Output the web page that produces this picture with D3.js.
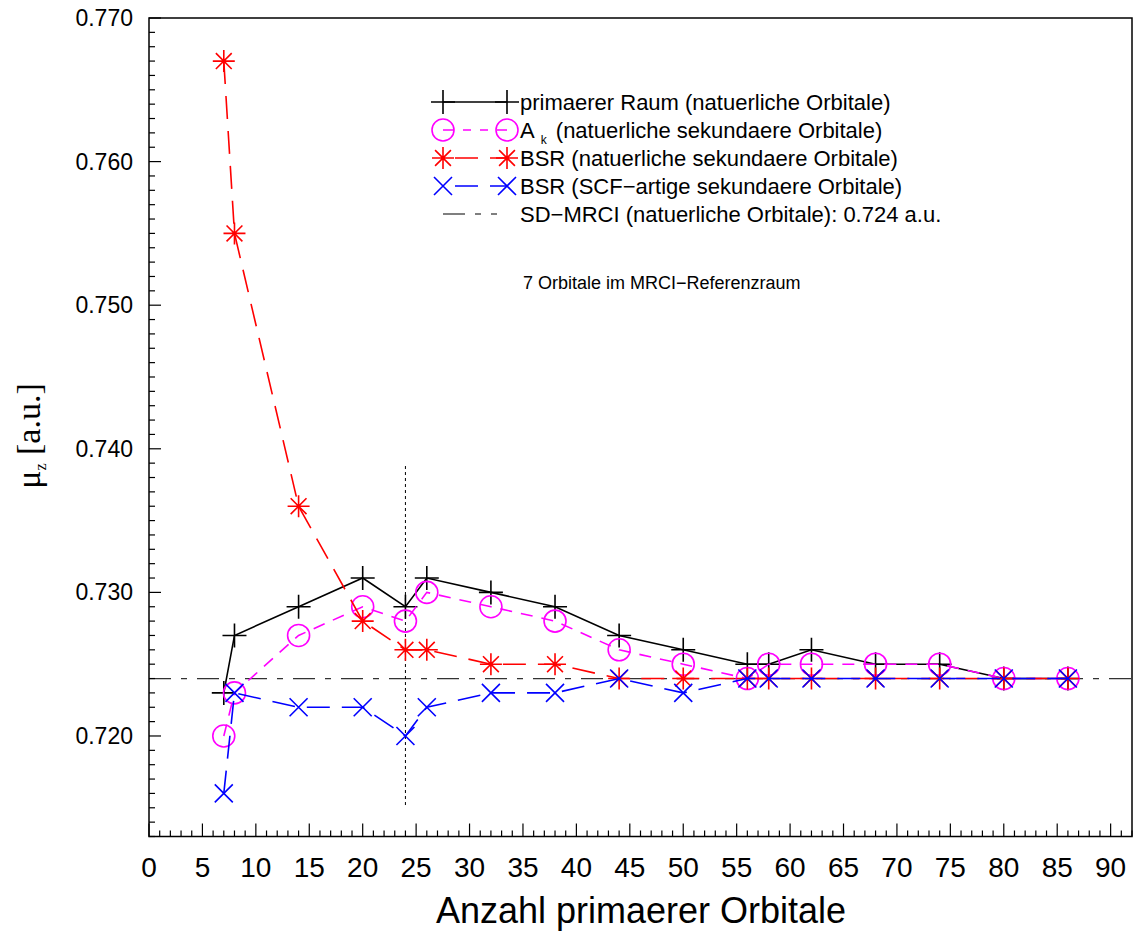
<!DOCTYPE html>
<html>
<head>
<meta charset="utf-8">
<script src="https://cdn.jsdelivr.net/npm/d3@7"></script>
<style>
  html, body { margin: 0; padding: 0; background: #fff; }
  svg { display: block; }
  text { font-family: "Liberation Sans", Arial, Helvetica, sans-serif; fill: #000; }
</style>
</head>
<body>
<svg id="chart" width="1138" height="933"></svg>
<script>
// Number of primary orbitals (x positions shared by all series)
const orbitals = [7, 8, 14, 20, 24, 26, 32, 38, 44, 50, 56, 58, 62, 68, 74, 80, 86];

// Dipole moment mu_z [a.u.] for each method
const primaerRaum   = [0.723, 0.727, 0.729, 0.731, 0.729, 0.731, 0.730, 0.729, 0.727, 0.726, 0.725, 0.725, 0.726, 0.725, 0.725, 0.724, 0.724];
const akNatuerlich  = [0.720, 0.723, 0.727, 0.729, 0.728, 0.730, 0.729, 0.728, 0.726, 0.725, 0.724, 0.725, 0.725, 0.725, 0.725, 0.724, 0.724];
const bsrNatuerlich = [0.767, 0.755, 0.736, 0.728, 0.726, 0.726, 0.725, 0.725, 0.724, 0.724, 0.724, 0.724, 0.724, 0.724, 0.724, 0.724, 0.724];
const bsrScf        = [0.716, 0.723, 0.722, 0.722, 0.720, 0.722, 0.723, 0.723, 0.724, 0.723, 0.724, 0.724, 0.724, 0.724, 0.724, 0.724, 0.724];

// Reference SD-MRCI value and the marker line at 24 orbitals
const sdMrciValue = 0.724;
const markerX = 24;
const markerRange = [0.715, 0.7388];

// Axis ticks
const xMajorTicks = d3.range(0, 91, 5);
const xMinorTicks = d3.range(0, 93, 1);
const yMajorTicks = [0.720, 0.730, 0.740, 0.750, 0.760, 0.770];
const yMinorTicks = d3.range(713, 771, 1).map(v => v / 1000);

const legendLabels = [
  "primaerer Raum (natuerliche Orbitale)",
  "A|k| (natuerliche sekundaere Orbitale)",
  "BSR (natuerliche sekundaere Orbitale)",
  "BSR (SCF\u2212artige sekundaere Orbitale)",
  "SD\u2212MRCI (natuerliche Orbitale): 0.724 a.u."
];

const svg = d3.select("#chart");
const plotLeft = 149, plotRight = 1132, plotTop = 18, plotBottom = 836.5;

const x = d3.scaleLinear().domain([0, 92]).range([plotLeft, plotRight]);
const y = d3.scaleLinear().domain([0.713, 0.770]).range([plotBottom, plotTop]);

// marker shapes
const shapes = {
  plus: s => `M${-s},0H${s}M0,${-s}V${s}`,
  circle: s => `M${s},0A${s},${s} 0 1,1 ${-s},0A${s},${s} 0 1,1 ${s},0Z`,
  star: s => { const d = s * 0.72; return `M${-s},0H${s}M0,${-s}V${s}M${-d},${-d}L${d},${d}M${-d},${d}L${d},${-d}`; },
  cross: s => `M${-s},${-s}L${s},${s}M${-s},${s}L${s},${-s}`
};

const series = [
  { values: primaerRaum,   color: "#000000", dash: null,    width: 1.6, shape: "plus",   size: 12 },
  { values: akNatuerlich,  color: "#ff00ff", dash: "12,9",  width: 1.6, shape: "circle", size: 11 },
  { values: bsrNatuerlich, color: "#ff0000", dash: "23,12", width: 1.6, shape: "star",   size: 11 },
  { values: bsrScf,        color: "#0000ff", dash: "23,12", width: 1.6, shape: "cross",  size: 9 }
];

// SD-MRCI reference line
svg.append("line")
  .attr("x1", x(0)).attr("x2", x(92))
  .attr("y1", y(sdMrciValue)).attr("y2", y(sdMrciValue))
  .attr("stroke", "#333").attr("stroke-width", 1.3)
  .attr("stroke-dasharray", "22,10,6,10");

// vertical dotted marker
svg.append("line")
  .attr("x1", x(markerX)).attr("x2", x(markerX))
  .attr("y1", y(markerRange[1])).attr("y2", y(markerRange[0]))
  .attr("stroke", "#000").attr("stroke-width", 1)
  .attr("stroke-dasharray", "3,3");

// series lines and markers
const line = d3.line().x(d => x(d[0])).y(d => y(d[1]));
series.forEach(s => {
  const pts = orbitals.map((o, i) => [o, s.values[i]]);
  svg.append("path")
    .attr("d", line(pts))
    .attr("fill", "none")
    .attr("stroke", s.color)
    .attr("stroke-width", s.width)
    .attr("stroke-dasharray", s.dash);
  svg.append("g").selectAll("path").data(pts).join("path")
    .attr("transform", d => `translate(${x(d[0])},${y(d[1])})`)
    .attr("d", shapes[s.shape](s.size))
    .attr("fill", "none")
    .attr("stroke", s.color)
    .attr("stroke-width", s.width);
});

// frame
svg.append("rect")
  .attr("x", plotLeft).attr("y", plotTop)
  .attr("width", plotRight - plotLeft).attr("height", plotBottom - plotTop)
  .attr("fill", "none").attr("stroke", "#000").attr("stroke-width", 1.5);

// x ticks (inward)
const xt = svg.append("g");
xt.selectAll("line").data(xMinorTicks).join("line")
  .attr("x1", d => x(d)).attr("x2", d => x(d))
  .attr("y1", plotBottom).attr("y2", d => plotBottom - (d % 5 === 0 ? 13 : 6))
  .attr("stroke", "#000").attr("stroke-width", 1.2);
xt.selectAll("text").data(xMajorTicks).join("text")
  .attr("x", d => x(d)).attr("y", 877)
  .attr("text-anchor", "middle")
  .style("font-size", "28px")
  .text(d => d);

// y ticks (inward)
const yt = svg.append("g");
yt.selectAll("line").data(yMinorTicks).join("line")
  .attr("x1", plotLeft).attr("x2", (d, i) => plotLeft + ((i + 3) % 10 === 0 ? 12 : 6))
  .attr("y1", d => y(d)).attr("y2", d => y(d))
  .attr("stroke", "#000").attr("stroke-width", 1.2);
yt.selectAll("text").data(yMajorTicks).join("text")
  .attr("x", 133).attr("y", d => y(d) + 8)
  .attr("text-anchor", "end")
  .style("font-size", "23px")
  .text(d => d3.format(".3f")(d));

// axis titles
svg.append("text")
  .attr("x", 641).attr("y", 923)
  .attr("text-anchor", "middle")
  .style("font-size", "36px")
  .text("Anzahl primaerer Orbitale");

const yTitle = svg.append("text")
  .attr("transform", "translate(40,436) rotate(-90)")
  .attr("text-anchor", "middle")
  .style("font-family", "'Liberation Serif', 'Times New Roman', serif")
  .style("font-size", "34px");
yTitle.append("tspan").text("\u03bc");
yTitle.append("tspan").attr("dy", 6).style("font-size", "16px").text("z");
yTitle.append("tspan").attr("dy", -6).text(" [a.u.]");

// legend
const legendRowY = [102, 130, 158, 186, 214];
const lx1 = 443, lx2 = 507, textX = 520;
const lg = svg.append("g");
series.forEach((s, i) => {
  const yy = legendRowY[i];
  lg.append("line")
    .attr("x1", lx1).attr("x2", lx2).attr("y1", yy).attr("y2", yy)
    .attr("stroke", s.color).attr("stroke-width", s.width)
    .attr("stroke-dasharray", s.shape === "circle" ? "11,9,8,9,8,9,30" : (s.dash ? "0,12,23,12,40" : null));
  [lx1, lx2].forEach(px => {
    lg.append("path")
      .attr("transform", `translate(${px},${yy})`)
      .attr("d", shapes[s.shape](s.size))
      .attr("fill", "none").attr("stroke", s.color).attr("stroke-width", s.width);
  });
});
lg.append("line")
  .attr("x1", lx1 - 20).attr("x2", lx2 - 1)
  .attr("y1", legendRowY[4]).attr("y2", legendRowY[4])
  .attr("stroke", "#000").attr("stroke-width", 1.2)
  .attr("stroke-dasharray", "0,20,22,10,6,10,6,50");

legendLabels.forEach((lab, i) => {
  const t = lg.append("text")
    .attr("x", textX).attr("y", legendRowY[i] + 8)
    .style("font-size", "22px");
  const parts = lab.split("|");
  if (parts.length === 3) {
    t.append("tspan").text(parts[0]);
    t.append("tspan").attr("dx", 6).attr("dy", 6).style("font-size", "12px").text(parts[1]);
    t.append("tspan").attr("dx", 3).attr("dy", -6).text(parts[2]);
  } else {
    t.text(lab);
  }
});

// annotation
svg.append("text")
  .attr("x", 523).attr("y", 289)
  .style("font-size", "18px")
  .text("7 Orbitale im MRCI\u2212Referenzraum");
</script>
</body>
</html>
